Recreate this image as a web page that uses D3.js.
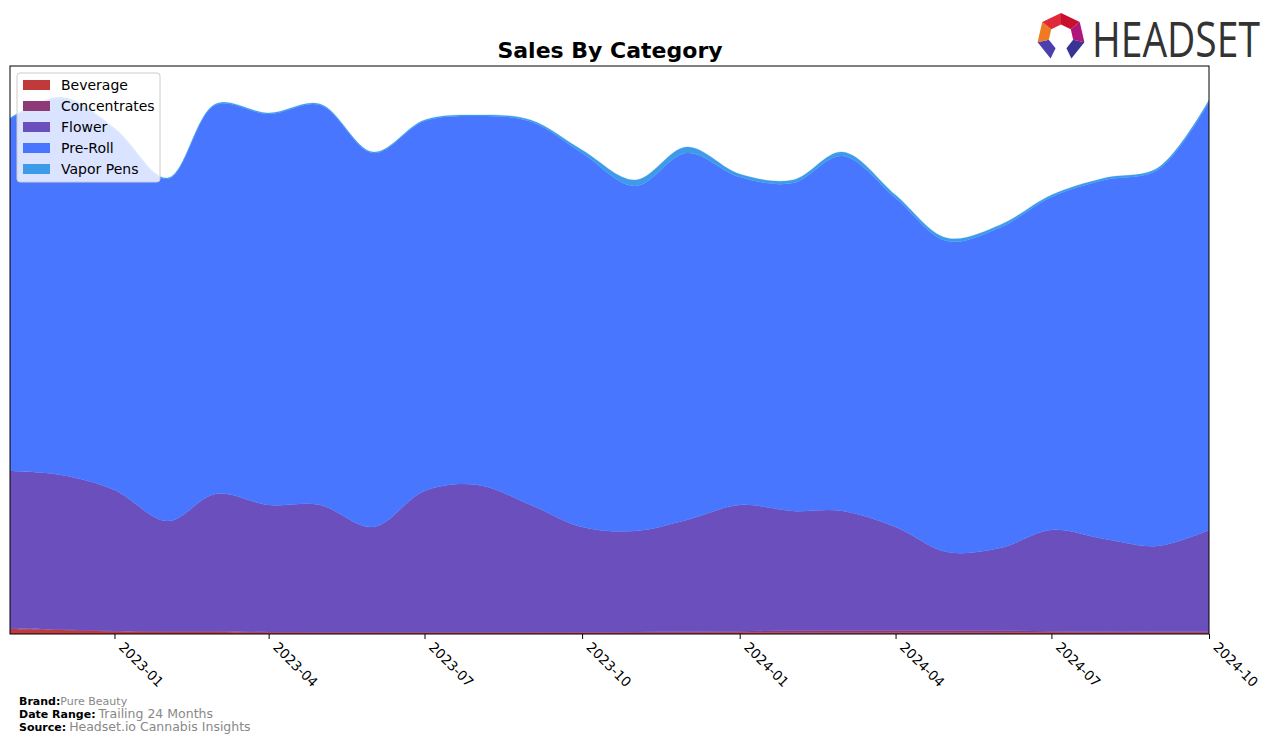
<!DOCTYPE html>
<html>
<head>
<meta charset="utf-8">
<script src="https://cdn.jsdelivr.net/npm/d3@7"></script>
<style>
  html, body { margin: 0; padding: 0; background: #fff; }
  svg { display: block; }
</style>
</head>
<body>
<svg id="chart" width="1276" height="744"></svg>
<script>
// ---- data ----
const months = ["2022-11","2022-12","2023-01","2023-02","2023-03","2023-04","2023-05","2023-06",
  "2023-07","2023-08","2023-09","2023-10","2023-11","2023-12","2024-01","2024-02","2024-03",
  "2024-04","2024-05","2024-06","2024-07","2024-08","2024-09","2024-10"];
const categories = ["Beverage","Concentrates","Flower","Pre-Roll","Vapor Pens"];
const beverage = [5,4,2.5,2,2,1.5,1.3,1.2,1.2,1.2,1.2,1.2,1.2,1.2,1.3,1.5,1.5,1.5,1.5,1.5,1.3,1.2,1.2,1.2];
const concentrates = [0.5,0.5,0.5,0.5,0.5,0.5,0.5,0.5,0.5,0.5,0.5,0.5,0.8,1,1.5,2,2,2,2,1.8,1.5,1.2,1.2,1.2];
const flower = [157.5,154.5,141,110.5,137.5,127,127.2,105.3,141.3,147.3,127.3,105.3,101,111.8,126.2,119.5,119.5,103.5,78.5,82.7,101.2,92.6,85.6,101.6];
const preRoll = [352,377,361,342,389,391,400,374,370,369,383.5,374,345,367,328,328,355,329,311,320.5,333,359,376,428];
const vaporPens = [1,1,1,1,1,1,1,1,1,1,1.5,3,6,6,3,3,4,3,3,2.5,2,2,2,2];
const tickLabels = ["2023-01","2023-04","2023-07","2023-10","2024-01","2024-04","2024-07","2024-10"];
const colors = ["#c0393b","#8e3a76","#6a4fbd","#4876ff","#3d9be9"];

// ---- layout ----
const svg = d3.select("#chart");
const L = 10, R = 1209, T = 66, B = 634;
const parse = d3.timeParse("%Y-%m");
const x = d3.scaleTime().domain([parse(months[0]), parse(months[months.length-1])]).range([L, R]);
const y = d3.scaleLinear().domain([0, 568]).range([B, T]);

const series = [beverage, concentrates, flower, preRoll, vaporPens];
const table = months.map((m, i) => {
  const o = { date: parse(m) };
  categories.forEach((c, k) => o[c] = series[k][i]);
  return o;
});
const stacked = d3.stack().keys(categories)(table);

const area = d3.area()
  .x(d => x(d.data.date))
  .y0(d => y(d[0]))
  .y1(d => y(d[1]))
  .curve(d3.curveCatmullRom.alpha(0.5));

svg.append("defs").append("clipPath").attr("id","clip")
  .append("rect").attr("x", L).attr("y", T).attr("width", R-L).attr("height", B-T);

svg.append("g").attr("clip-path","url(#clip)")
  .selectAll("path").data(stacked).join("path")
  .attr("d", area)
  .attr("fill", (d, i) => colors[i])
  .attr("stroke", (d, i) => colors[i])
  .attr("stroke-width", 0.3);

// frame
svg.append("rect").attr("x", L).attr("y", T).attr("width", R-L).attr("height", B-T)
  .attr("fill","none").attr("stroke","#000").attr("stroke-width",1);

// x axis
const xAxis = d3.axisBottom(x)
  .tickValues(tickLabels.map(parse))
  .tickFormat(d3.timeFormat("%Y-%m"))
  .tickSize(5).tickSizeOuter(0);
const gx = svg.append("g").attr("transform", `translate(0,${B})`).call(xAxis);
gx.select(".domain").remove();
gx.selectAll(".tick line").attr("stroke","#000");
gx.selectAll(".tick text")
  .attr("font-family","DejaVu Sans, sans-serif")
  .attr("font-size", 13.5)
  .attr("fill","#000")
  .attr("text-anchor","start")
  .attr("dy", null)
  .attr("y", 0)
  .attr("transform","translate(3,14) rotate(45)");

// title
svg.append("text").attr("x", 610).attr("y", 58)
  .attr("text-anchor","middle")
  .attr("font-family","DejaVu Sans, sans-serif")
  .attr("font-weight","bold").attr("font-size", 22)
  .text("Sales By Category");

// legend
const lg = svg.append("g");
lg.append("rect").attr("x", 17).attr("y", 73).attr("width", 143).attr("height", 109)
  .attr("rx", 3).attr("fill","#fff").attr("fill-opacity",0.8)
  .attr("stroke","#cccccc").attr("stroke-width",1);
categories.forEach((c, i) => {
  const cy = 85 + i*21;
  lg.append("rect").attr("x", 23).attr("y", cy-5).attr("width", 27).attr("height", 10)
    .attr("fill", colors[i]);
  lg.append("text").attr("x", 61).attr("y", cy+5)
    .attr("font-family","DejaVu Sans, sans-serif").attr("font-size", 14)
    .attr("fill","#000").text(c);
});

// footer
const foot = [
  ["Brand:", "Pure Beauty", 705, 11, 0],
  ["Date Range:", "Trailing 24 Months", 718, 12.5, 3],
  ["Source:", "Headset.io Cannabis Insights", 731, 12.5, 3]
];
foot.forEach(f => {
  const t = svg.append("text").attr("x", 19).attr("y", f[2])
    .attr("font-family","DejaVu Sans, sans-serif");
  t.append("tspan").attr("font-weight","bold").attr("font-size", 11).attr("fill","#000").text(f[0]);
  t.append("tspan").attr("font-size", f[3]).attr("fill","#888").attr("dx", f[4]).text(f[1]);
});

// logo
const logo = svg.append("g");
const cx = 1061, cyL = 37, ro = 24, ri = 12.5;
const segColors = ["#c8102e","#b0157c","#3a3393",null,"#4b3fae","#f07a22","#e02a3a"];
const ang = d3.range(8).map(i => -Math.PI/2 + i*2*Math.PI/7);
for (let i = 0; i < 7; i++) {
  if (i === 3) continue;
  const a0 = ang[i], a1 = ang[i+1];
  const pts = [
    [cx + ro*Math.cos(a0), cyL + ro*Math.sin(a0)],
    [cx + ro*Math.cos(a1), cyL + ro*Math.sin(a1)],
    [cx + ri*Math.cos(a1), cyL + ri*Math.sin(a1)],
    [cx + ri*Math.cos(a0), cyL + ri*Math.sin(a0)]
  ];
  logo.append("polygon").attr("points", pts.map(p => p.join(",")).join(" ")).attr("fill", segColors[i]);
}
logo.append("g").attr("transform","translate(1092,57) scale(0.78,1)")
  .append("text").attr("x", 0).attr("y", 0)
  .attr("font-family","Open Sans, DejaVu Sans, sans-serif")
  .attr("font-size", 50).attr("fill","#333")
  .text("HEADSET");
</script>
</body>
</html>
